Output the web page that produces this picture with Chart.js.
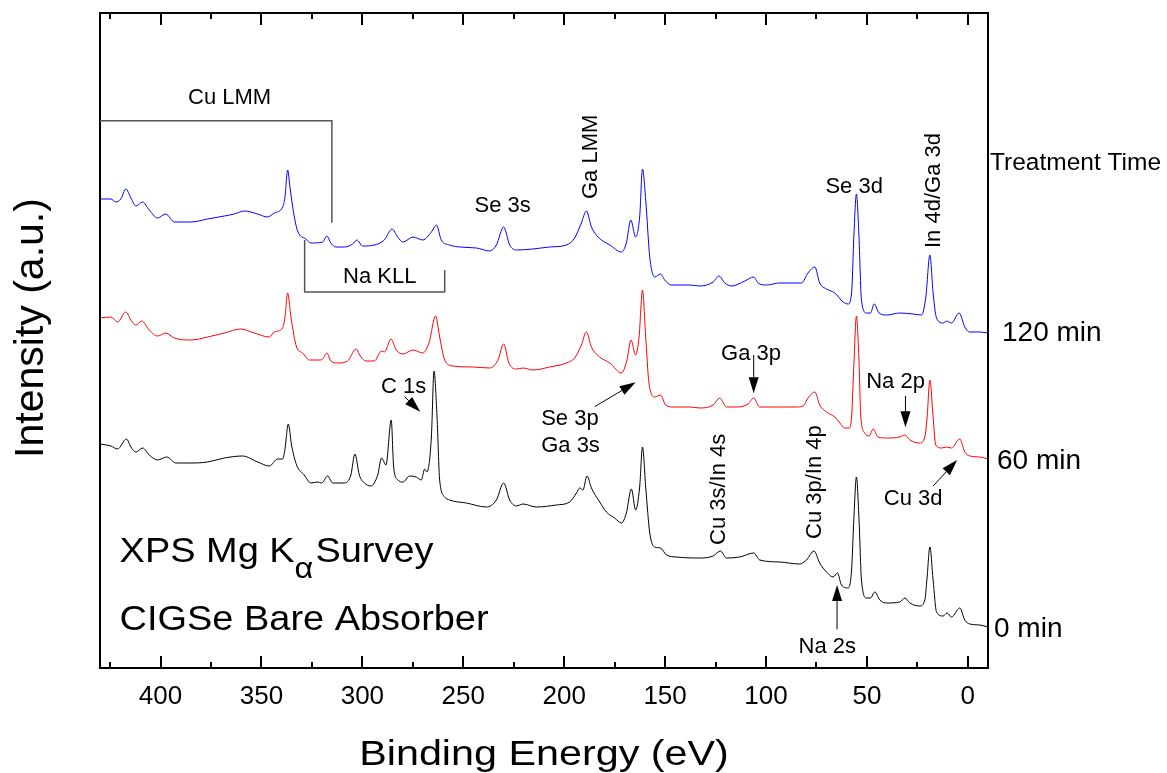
<!DOCTYPE html>
<html>
<head>
<meta charset="utf-8">
<title>XPS Mg Ka Survey</title>
<script src="https://cdn.jsdelivr.net/npm/chart.js@4.4.1/dist/chart.umd.min.js"></script>
<style>
  html, body { margin: 0; padding: 0; background: #fff; }
  canvas { display: block; }
</style>
</head>
<body>
<canvas id="xpsChart" width="1167" height="773"></canvas>
<script>
// ------------------ SPECTRA (binding energy in eV, intensity in a.u., stacked) ------------------
const xTicks = [400, 350, 300, 250, 200, 150, 100, 50, 0];

// 120 min
const energy120 = [430, 424.6, 422.2, 419.7, 417.2, 414.7, 412.2, 408.9, 405.6, 401.5, 397.4, 393.2, 385.0, 376.7, 368.4, 363.5, 358.5, 351.9, 347.0, 343.6, 339.5, 338.4, 337.0, 335.9, 333.7, 332.1, 328.0, 325.5, 319.7, 317.6, 315.6, 313.1, 308.9, 304.8, 302.7, 299.9, 294.1, 289.1, 285.3, 282.5, 279.9, 274.9, 270.0, 265.8, 263.3, 260.9, 256.8, 251.8, 243.5, 236.9, 233.6, 230.0, 227.0, 223.7, 215.5, 207.2, 198.9, 194.8, 191.5, 189.0, 186.5, 183.2, 177.4, 171.6, 169.2, 167.0, 164.6, 162.6, 161.2, 159.6, 157.6, 155.1, 152.3, 150.2, 146.9, 137.8, 132.8, 126.2, 123.3, 120.4, 117.1, 110.5, 106.1, 103.9, 99.8, 93.2, 85.7, 82.4, 79.2, 75.8, 73.4, 70.0, 65.9, 61.8, 59.3, 57.6, 56.4, 55.2, 54.0, 52.7, 50.2, 48.2, 46.4, 44.0, 40.3, 33.7, 27.1, 22.9, 20.8, 18.8, 17.2, 15.5, 12.2, 10.6, 8.1, 4.3, 1.5, -1.0, -5.9, -10];
const counts120 = [469, 469, 466, 469, 479, 470, 462, 466, 458, 450, 454, 446, 446, 449, 452, 454, 457, 454, 451, 455, 461, 470, 498, 481, 451, 437, 429, 425, 426, 432, 425, 421, 421, 424, 428, 422, 423, 428, 439, 431, 426, 431, 428, 436, 443, 428, 423, 421, 420, 417, 423, 441, 423, 418, 419, 421, 423, 430, 445, 457, 441, 431, 423, 416, 425, 448, 431, 451, 499, 468, 411, 391, 394, 388, 383, 383, 382, 386, 392, 385, 382, 387, 391, 385, 383, 385, 385, 385, 395, 401, 385, 379, 375, 366, 364, 375, 435, 474, 435, 368, 355, 355, 364, 355, 353, 355, 354, 353, 371, 413, 375, 350, 345, 347, 345, 355, 341, 336, 336, 335];

// 60 min
const energy60 = [430, 424.6, 421.3, 417.2, 414.7, 412.2, 409.3, 405.6, 401.5, 397.4, 393.2, 385.0, 376.7, 368.4, 360.2, 353.6, 346.1, 343.6, 339.5, 338.4, 337.0, 335.4, 332.6, 329.6, 326.3, 321.3, 319.7, 317.6, 315.6, 312.3, 307.3, 303.2, 300.7, 298.2, 294.1, 290.5, 289.1, 285.8, 283.2, 279.9, 274.9, 270.0, 267.0, 263.7, 261.7, 259.2, 255.1, 245.2, 236.9, 232.8, 230.0, 227.4, 223.7, 220.4, 215.5, 207.2, 198.9, 194.8, 191.5, 189.0, 186.5, 182.4, 177.4, 171.6, 168.9, 166.9, 164.6, 162.9, 161.2, 159.6, 158.0, 155.1, 152.3, 149.7, 146.1, 137.8, 132.8, 126.2, 122.9, 119.6, 114.6, 108.9, 106.1, 103.1, 94.8, 84.9, 81.6, 79.2, 75.8, 73.4, 70.0, 65.9, 63.4, 61.0, 58.8, 57.6, 56.5, 55.2, 54.0, 53.0, 51.1, 48.9, 46.9, 44.5, 40.3, 33.7, 31.2, 28.7, 23.8, 21.3, 20.2, 18.8, 17.2, 15.9, 13.0, 10.6, 8.1, 4.0, 1.5, -1.0, -5.9, -10];
const counts60 = [350, 351, 346, 356, 348, 343, 347, 338, 332, 335, 330, 328, 331, 335, 339, 335, 331, 336, 340, 350, 375, 351, 321, 315, 308, 308, 309, 315, 307, 305, 307, 319, 311, 307, 307, 317, 316, 329, 318, 314, 318, 315, 325, 352, 331, 308, 302, 301, 300, 308, 324, 305, 299, 300, 298, 301, 305, 310, 323, 336, 321, 311, 305, 295, 308, 328, 313, 331, 378, 331, 285, 271, 273, 263, 261, 261, 260, 263, 270, 261, 261, 264, 270, 261, 261, 261, 262, 270, 276, 263, 256, 251, 245, 240, 240, 251, 301, 352, 311, 251, 235, 232, 239, 231, 230, 231, 233, 228, 225, 231, 250, 288, 251, 223, 220, 221, 220, 229, 216, 212, 211, 209];

// 0 min
const energy0 = [430, 424.6, 421.3, 416.9, 414.7, 412.2, 408.9, 405.6, 401.5, 396.9, 392.4, 385.0, 376.7, 368.4, 359.4, 351.9, 346.1, 342.0, 339.5, 338.4, 336.7, 335.1, 332.6, 328.8, 325.5, 322.2, 320.2, 317.2, 314.7, 308.9, 305.7, 303.7, 301.5, 299.0, 295.8, 292.4, 290.5, 288.3, 285.7, 284.5, 282.4, 279.9, 276.6, 273.3, 270.8, 269.1, 268.0, 265.8, 264.5, 263.0, 261.7, 259.2, 256.8, 248.5, 238.6, 233.6, 230.0, 227.0, 223.7, 220.4, 213.8, 203.9, 197.3, 193.9, 192.3, 190.7, 188.7, 186.5, 182.4, 179.1, 175.0, 171.6, 169.2, 166.7, 164.6, 162.6, 161.2, 159.6, 157.6, 155.1, 152.3, 149.3, 144.4, 132.8, 126.2, 122.6, 119.6, 113.0, 106.1, 103.1, 93.2, 83.3, 80.0, 76.2, 73.4, 70.0, 66.8, 64.6, 62.6, 59.3, 57.6, 56.5, 55.2, 53.9, 52.7, 50.2, 48.2, 46.1, 43.6, 40.3, 33.7, 31.2, 28.7, 23.8, 21.3, 20.2, 18.8, 17.2, 15.5, 12.2, 10.3, 8.1, 4.0, 1.5, -1.0, -5.9, -10];
const counts0 = [224, 222, 219, 229, 221, 216, 220, 213, 208, 211, 205, 205, 206, 210, 212, 206, 202, 209, 209, 218, 244, 223, 203, 193, 185, 186, 185, 192, 185, 185, 193, 214, 193, 185, 182, 193, 210, 203, 248, 201, 188, 186, 192, 191, 188, 199, 196, 231, 297, 251, 188, 171, 168, 165, 161, 168, 185, 168, 162, 164, 161, 163, 166, 175, 180, 178, 192, 180, 166, 156, 150, 145, 155, 179, 158, 181, 221, 181, 135, 121, 120, 113, 111, 110, 112, 117, 110, 111, 115, 108, 106, 104, 108, 117, 105, 96, 91, 95, 83, 80, 98, 148, 191, 148, 88, 70, 70, 76, 68, 65, 66, 70, 65, 62, 68, 90, 121, 88, 56, 52, 55, 51, 60, 48, 44, 43, 41];

const FONT = '"Liberation Sans", Arial, Helvetica, sans-serif';

// ------------------ ANNOTATIONS (energy / intensity units) ------------------
const peakLabels = [
    { text: 'Cu LMM', e: 365.8, i: 564, align: 'center' },
    { text: 'Na KLL', e: 291.4, i: 384.7, align: 'center' },
    { text: 'Se 3s', e: 230.5, i: 456.3, align: 'center' },
    { text: 'Ga LMM', e: 183.9, i: 469, rotate: true },
    { text: 'Se 3d', e: 56.3, i: 474.7, align: 'center' },
    { text: 'In 4d/Ga 3d', e: 13.9, i: 420, rotate: true },
    { text: 'C 1s', e: 279.5, i: 274.7, align: 'center' },
    { text: 'Se 3p', e: 211.4, i: 243 },
    { text: 'Ga 3s', e: 211.4, i: 216.3 },
    { text: 'Ga 3p', e: 107.4, i: 308, align: 'center' },
    { text: 'Na 2p', e: 35.8, i: 279.7, align: 'center' },
    { text: 'Cu 3d', e: 27.1, i: 163, align: 'center' },
    { text: 'Cu 3s/In 4s', e: 120.3, i: 123, rotate: true },
    { text: 'Cu 3p/In 4p', e: 72.9, i: 129, rotate: true },
    { text: 'Na 2s', e: 69.6, i: 15.3, align: 'center' }
];

const arrows = [
    { from: [279.1, 271.3], to: [271.3, 256.3] },   // C 1s
    { from: [184.9, 261.3], to: [164.6, 285.7] },   // Se 3p / Ga 3s
    { from: [106.1, 313], to: [106.1, 274.7] },     // Ga 3p
    { from: [30.9, 272], to: [30.9, 240.7] },       // Na 2p
    { from: [17.2, 182], to: [5.3, 208] },          // Cu 3d
    { from: [64.8, 38.7], to: [64.8, 83] }          // Na 2s
];

const brackets = [
    [[430, 547.3], [315.1, 547.3], [315.1, 445.3]],               // Cu LMM
    [[328.6, 428], [328.6, 376], [259.2, 376], [259.2, 398]]      // Na KLL
];

// curve labels on the right side of the frame: [text, intensity, pixel offset from frame]
const timeLabels = [
    ['120 min', 327.3, 14],
    ['60 min', 198.7, 9],
    ['0 min', 31.3, 6]
];

// ------------------ DRAWING HELPERS ------------------
function drawText(ctx, text, x, y, size, opt = {}) {
    ctx.save();
    ctx.translate(x, y);
    if (opt.rotate) ctx.rotate(-Math.PI / 2);
    ctx.scale(opt.stretch || 1, 1);
    ctx.font = size + 'px ' + FONT;
    ctx.fillStyle = '#000';
    ctx.textAlign = opt.align || 'left';
    ctx.textBaseline = 'alphabetic';
    ctx.fillText(text, 0, 0);
    ctx.restore();
}

function drawArrow(ctx, x0, y0, x1, y1) {
    const a = Math.atan2(y1 - y0, x1 - x0);
    const len = 16, half = 5;
    const bx = x1 - len * Math.cos(a), by = y1 - len * Math.sin(a);
    ctx.beginPath();
    ctx.moveTo(x0, y0);
    ctx.lineTo(bx, by);
    ctx.stroke();
    ctx.beginPath();
    ctx.moveTo(x1, y1);
    ctx.lineTo(bx + half * Math.sin(a), by - half * Math.cos(a));
    ctx.lineTo(bx - half * Math.sin(a), by + half * Math.cos(a));
    ctx.closePath();
    ctx.fill();
}

// frame, inward ticks, titles and peak labels
const surveyDecor = {
    id: 'surveyDecor',
    afterDraw(chart) {
        const ctx = chart.ctx;
        const { left, right, top, bottom } = chart.chartArea;
        const sx = chart.scales.x, sy = chart.scales.y;
        const px = e => sx.getPixelForValue(e);
        const py = i => sy.getPixelForValue(i);

        ctx.save();
        ctx.strokeStyle = '#000';
        ctx.fillStyle = '#000';

        // frame
        ctx.lineWidth = 2;
        ctx.strokeRect(left, top, right - left, bottom - top);

        // ticks pointing inwards, top and bottom
        for (let v = 0; v <= 425; v += 25) {
            const x = Math.round(px(v));
            const len = v % 50 === 0 ? 12 : 6;
            ctx.beginPath();
            ctx.moveTo(x, bottom);
            ctx.lineTo(x, bottom - len);
            ctx.moveTo(x, top);
            ctx.lineTo(x, top + len);
            ctx.stroke();
        }

        // brackets
        ctx.strokeStyle = '#555';
        ctx.lineWidth = 1.5;
        brackets.forEach(pts => {
            ctx.beginPath();
            pts.forEach(([e, i], k) => k ? ctx.lineTo(px(e), py(i)) : ctx.moveTo(px(e), py(i)));
            ctx.stroke();
        });

        // arrows
        ctx.strokeStyle = '#000';
        ctx.lineWidth = 1;
        arrows.forEach(a => drawArrow(ctx, px(a.from[0]), py(a.from[1]), px(a.to[0]), py(a.to[1])));
        ctx.restore();

        // peak labels
        peakLabels.forEach(l => drawText(ctx, l.text, px(l.e), py(l.i), 22, { align: l.align, rotate: l.rotate }));

        // sample description
        const xs = px(420.3);
        const stretch = 1.084;
        ctx.font = '35px ' + FONT;
        const wK = ctx.measureText('XPS Mg K').width * stretch;
        drawText(ctx, 'XPS Mg K', xs, py(106.3), 35, { stretch });
        ctx.font = '30px ' + FONT;
        const wA = ctx.measureText('\u03b1').width * stretch;
        drawText(ctx, '\u03b1', xs + wK, py(90), 30, { stretch });
        drawText(ctx, 'Survey', xs + wK + wA + 2, py(106.3), 35, { stretch });
        drawText(ctx, 'CIGSe Bare Absorber', xs, py(38), 35, { stretch });

        // treatment time legend outside the frame
        drawText(ctx, 'Treatment Time', right + 2, py(498), 24.5);
        timeLabels.forEach(([t, i, off]) => drawText(ctx, t, right + off, py(i), 28));

        // axis titles
        drawText(ctx, 'Binding Energy (eV)', (left + right) / 2, 765, 35, { align: 'center', stretch: 1.18 });
        drawText(ctx, 'Intensity (a.u.)', 43, 328, 41, { align: 'center', rotate: true });
    }
};

// ------------------ CHART ------------------
const series = [
    { label: '0 min', energy: energy0, counts: counts0, color: '#000000' },
    { label: '60 min', energy: energy60, counts: counts60, color: '#ff0000' },
    { label: '120 min', energy: energy120, counts: counts120, color: '#0000ff' }
];

new Chart(document.getElementById('xpsChart'), {
    type: 'line',
    data: {
        datasets: series.map(s => ({
            label: s.label,
            data: s.energy.map((e, k) => ({ x: e, y: s.counts[k] })),
            borderColor: s.color,
            borderWidth: 1,
            pointRadius: 0,
            cubicInterpolationMode: 'monotone',
            fill: false
        }))
    },
    options: {
        responsive: false,
        animation: false,
        devicePixelRatio: 1,
        layout: { padding: { left: 0, right: 179, top: 13, bottom: 0 } },
        plugins: {
            legend: { display: false },
            tooltip: { enabled: false }
        },
        scales: {
            x: {
                type: 'linear',
                reverse: true,
                min: -10,
                max: 430,
                grid: { display: false, drawTicks: false },
                border: { display: false },
                afterBuildTicks: s => { s.ticks = xTicks.map(v => ({ value: v })); },
                afterFit: s => { s.height = 105; },
                ticks: {
                    color: '#000',
                    padding: 13,
                    maxRotation: 0,
                    autoSkip: false,
                    font: { family: FONT, size: 26 }
                }
            },
            y: {
                type: 'linear',
                min: 0,
                max: 655,
                grid: { display: false, drawTicks: false },
                border: { display: false },
                ticks: { display: false },
                afterFit: s => { s.width = 100; }
            }
        }
    },
    plugins: [surveyDecor]
});
</script>
</body>
</html>
